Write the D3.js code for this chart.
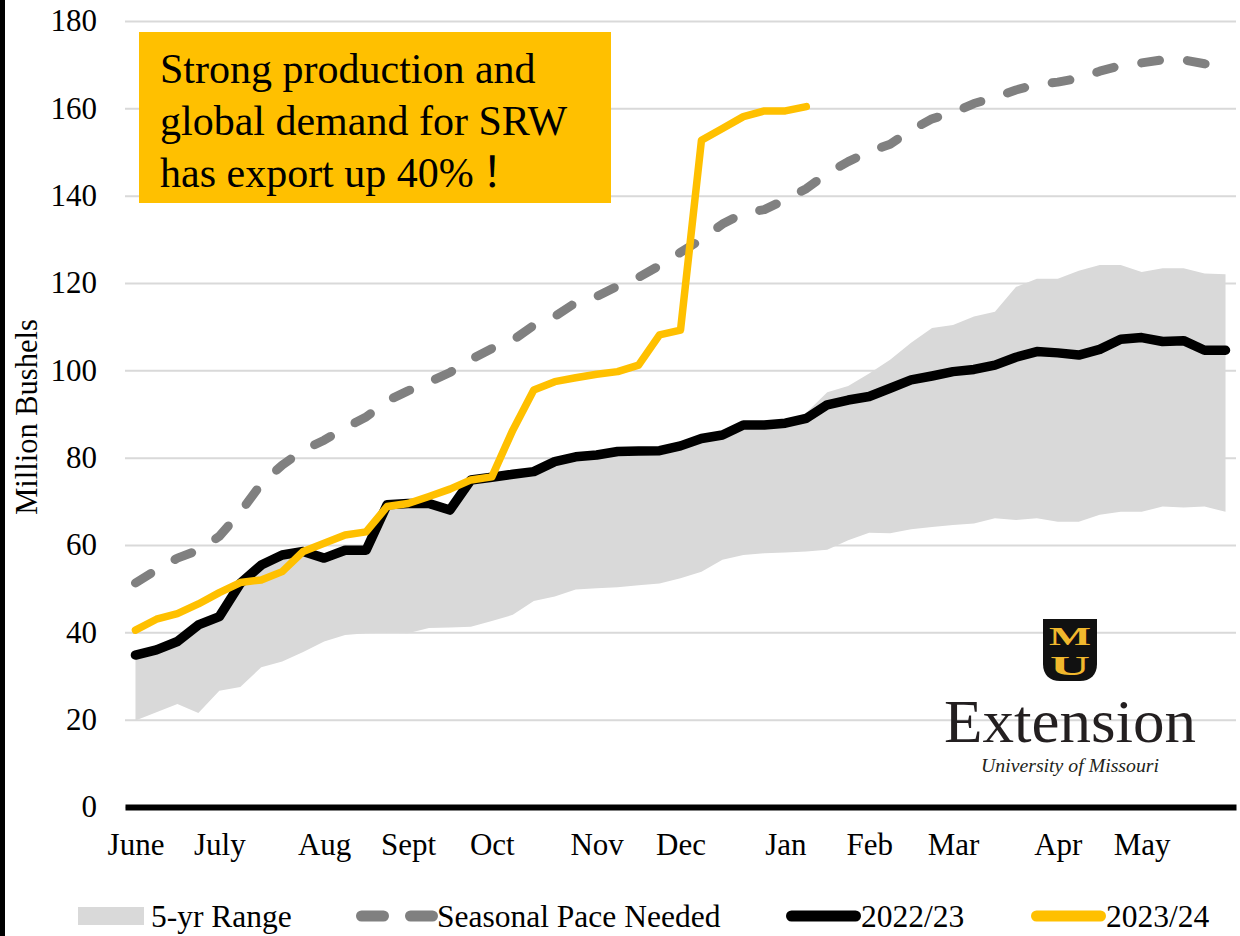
<!DOCTYPE html>
<html>
<head>
<meta charset="utf-8">
<script src="https://cdn.jsdelivr.net/npm/d3@7"></script>
<style>
  html, body { margin: 0; padding: 0; background: #fff; }
  svg { display: block; font-family: "Liberation Serif", "Times New Roman", serif; }
</style>
</head>
<body>
<svg id="chart" width="1240" height="936"></svg>
<script>
// weekly categories, month name on the first week of each month
const weekLabels = ["June","","","","July","","","","","Aug","","","","Sept","","","","Oct","","","","",
  "Nov","","","","Dec","","","","","Jan","","","","Feb","","","","Mar","","","","","Apr","","","","May","","","",""];

const yTicks = [0, 20, 40, 60, 80, 100, 120, 140, 160, 180];

// 5-yr range (low / high), million bushels
const rangeLow = [19.8,21.7,23.6,21.5,26.6,27.5,32.0,33.3,35.5,37.9,
  39.4,39.8,39.9,39.8,41.0,41.1,41.3,42.6,44.0,47.2,
  48.2,49.8,50.1,50.3,50.8,51.2,52.4,53.9,56.6,57.7,
  58.1,58.3,58.5,58.9,61.1,62.8,62.7,63.6,64.1,64.6,
  64.9,66.1,65.7,66.1,65.3,65.3,66.9,67.6,67.6,68.8,
  68.6,68.8,67.6];
const rangeHigh = [34.6,35.8,37.7,41.5,43.4,51.0,55.2,57.5,58.3,56.8,
  58.6,58.6,69.0,69.3,69.3,67.8,74.7,75.3,76.0,76.6,
  78.9,80.0,80.4,81.2,81.3,81.4,82.5,84.2,85.0,87.3,
  87.3,88.0,90.3,95.0,96.4,99.3,102.4,106.3,109.7,110.4,
  112.3,113.4,119.1,121.0,121.0,122.8,124.1,124.1,122.5,123.4,
  123.4,122.2,122.0];

const pace = [51.3,54.3,57.0,58.8,62.0,67.5,74.0,78.3,81.7,84.0,
  86.8,89.3,93.0,95.3,97.3,99.5,102.5,105.0,106.9,110.3,
  112.3,115.5,116.9,119.3,121.3,124.0,127.0,130.0,133.5,136.0,
  136.8,139.1,141.6,145.1,147.8,150.1,151.8,155.0,157.6,159.0,
  161.1,162.5,164.2,165.5,166.0,166.9,168.5,169.8,170.4,171.1,
  171.1,170.2,169.3];

const exports2223 = [34.8,36.0,37.9,41.7,43.6,51.2,55.4,57.7,58.5,57.0,
  58.8,58.8,69.2,69.5,69.5,68.0,74.9,75.5,76.2,76.8,
  79.1,80.2,80.6,81.4,81.5,81.6,82.7,84.4,85.2,87.5,
  87.5,87.9,89.0,92.1,93.2,94.0,95.9,97.8,98.7,99.7,
  100.2,101.2,103.0,104.3,104.0,103.5,104.8,107.1,107.5,106.6,
  106.8,104.6,104.6];

const exports2324 = [40.5,43.0,44.3,46.5,49.1,51.4,52.0,53.9,58.5,60.4,
  62.3,63.0,68.8,69.5,71.1,72.8,74.9,75.6,86.3,95.5,
  97.4,98.3,99.1,99.7,101.2,108.1,109.2,152.7,155.4,158.1,
  159.4,159.4,160.4];

const noteLines = ["Strong production and", "global demand for SRW", "has export up 40%"];

const GOLD = "#FFC000";
const GREY = "#808080";
const BAND = "#D9D9D9";
const SERIF = "'Liberation Serif', 'Times New Roman', serif";

const svg = d3.select("#chart");
const plotLeft = 125, plotRight = 1236, plotTop = 21, plotBottom = 807;

const x = d3.scalePoint()
  .domain(d3.range(weekLabels.length))
  .range([plotLeft, plotRight])
  .padding(0.5);
const y = d3.scaleLinear().domain([0, 180]).range([plotBottom, plotTop]);

// left edge bar
svg.append("rect").attr("x", 0).attr("y", 0).attr("width", 5).attr("height", 936).attr("fill", "#000");

// gridlines
const grid = svg.append("g").attr("transform", `translate(${plotLeft},0)`)
  .call(d3.axisLeft(y).tickValues(yTicks).tickSize(-(plotRight - plotLeft)).tickFormat(""));
grid.select(".domain").remove();
grid.selectAll("line").attr("stroke", BAND).attr("stroke-width", 2);

// y labels
const yAxis = svg.append("g").attr("transform", `translate(${plotLeft},0)`)
  .call(d3.axisLeft(y).tickValues(yTicks).tickSize(0).tickPadding(28));
yAxis.select(".domain").remove();
yAxis.selectAll("text")
  .attr("font-family", SERIF)
  .attr("font-size", 31).attr("fill", "#000");

svg.append("text")
  .attr("transform", "translate(37,417) rotate(-90)")
  .attr("text-anchor", "middle")
  .attr("font-family", SERIF)
  .attr("font-size", 30.5)
  .text("Million Bushels");

// 5-yr range band
const idx = d3.range(rangeLow.length);
svg.append("path")
  .datum(idx)
  .attr("fill", BAND)
  .attr("d", d3.area().x(i => x(i)).y0(i => y(rangeLow[i])).y1(i => y(rangeHigh[i])));

const line = vals => d3.line().x((d, i) => x(i)).y(d => y(d))(vals);

svg.append("path").attr("d", line(pace))
  .attr("fill", "none").attr("stroke", GREY).attr("stroke-width", 9)
  .attr("stroke-linecap", "round").attr("stroke-linejoin", "round")
  .attr("stroke-dasharray", "18 28");

svg.append("path").attr("d", line(exports2223))
  .attr("fill", "none").attr("stroke", "#000").attr("stroke-width", 9.5)
  .attr("stroke-linecap", "round").attr("stroke-linejoin", "round");

svg.append("path").attr("d", line(exports2324))
  .attr("fill", "none").attr("stroke", GOLD).attr("stroke-width", 7.5)
  .attr("stroke-linecap", "round").attr("stroke-linejoin", "round");

// x axis
const xAxis = svg.append("g").attr("transform", `translate(0,${plotBottom})`)
  .call(d3.axisBottom(x)
    .tickValues(idx.filter(i => weekLabels[i] !== ""))
    .tickFormat(i => weekLabels[i])
    .tickSize(0).tickSizeOuter(0));
xAxis.select(".domain").attr("stroke", "#000").attr("stroke-width", 6);
xAxis.selectAll("text")
  .attr("font-family", SERIF)
  .attr("font-size", 31).attr("fill", "#000")
  .attr("y", 48).attr("dy", 0);

// annotation box
svg.append("rect").attr("x", 139).attr("y", 32).attr("width", 472).attr("height", 171).attr("fill", GOLD);
const note = svg.append("g").selectAll("text").data(noteLines).join("text")
  .attr("x", 160).attr("y", (d, i) => 83 + i * 52)
  .attr("font-family", SERIF)
  .attr("font-size", 42).attr("fill", "#000")
  .text(d => d);
note.filter((d, i) => i === noteLines.length - 1)
  .append("tspan").attr("dx", 8).attr("font-family", "'Noto Sans CJK SC', sans-serif").text("！");

// logo: shield with M over U, then wordmark
const logo = svg.append("g").attr("font-family", SERIF);
logo.append("path")
  .attr("d", "M1043,619 H1097 V664 C1097,675 1090,681 1080,681 H1060 C1050,681 1043,675 1043,664 Z")
  .attr("fill", "#111");
logo.append("text").attr("x", 1070).attr("y", 645).attr("text-anchor", "middle")
  .attr("font-size", 25).attr("font-weight", "bold").attr("fill", "#F1B82D")
  .attr("textLength", 42).attr("lengthAdjust", "spacingAndGlyphs").text("M");
logo.append("text").attr("x", 1070).attr("y", 675).attr("text-anchor", "middle")
  .attr("font-size", 27).attr("font-weight", "bold").attr("fill", "#F1B82D")
  .attr("textLength", 40).attr("lengthAdjust", "spacingAndGlyphs").text("U");
logo.append("text").attr("x", 944).attr("y", 741.5)
  .attr("font-size", 62).attr("fill", "#231f20")
  .attr("textLength", 252).attr("lengthAdjust", "spacingAndGlyphs").text("Extension");
logo.append("text").attr("x", 981).attr("y", 772)
  .attr("font-size", 19).attr("font-style", "italic").attr("fill", "#231f20")
  .attr("textLength", 178).attr("lengthAdjust", "spacingAndGlyphs").text("University of Missouri");

// legend
const legend = svg.append("g").attr("font-family", SERIF).attr("font-size", 31.5);
const ly = 916;
legend.append("rect").attr("x", 78).attr("y", ly - 9).attr("width", 66).attr("height", 18).attr("fill", BAND);
legend.append("text").attr("x", 151).attr("y", ly + 11).text("5-yr Range");
legend.append("line").attr("x1", 361.5).attr("x2", 432.5).attr("y1", ly).attr("y2", ly)
  .attr("stroke", GREY).attr("stroke-width", 11).attr("stroke-linecap", "round")
  .attr("stroke-dasharray", "22 27");
legend.append("text").attr("x", 437).attr("y", ly + 11).text("Seasonal Pace Needed");
legend.append("line").attr("x1", 791.5).attr("x2", 855.5).attr("y1", ly).attr("y2", ly)
  .attr("stroke", "#000").attr("stroke-width", 11).attr("stroke-linecap", "round");
legend.append("text").attr("x", 861).attr("y", ly + 11).text("2022/23");
legend.append("line").attr("x1", 1036.5).attr("x2", 1100.5).attr("y1", ly).attr("y2", ly)
  .attr("stroke", GOLD).attr("stroke-width", 11).attr("stroke-linecap", "round");
legend.append("text").attr("x", 1106).attr("y", ly + 11).text("2023/24");
</script>
</body>
</html>
